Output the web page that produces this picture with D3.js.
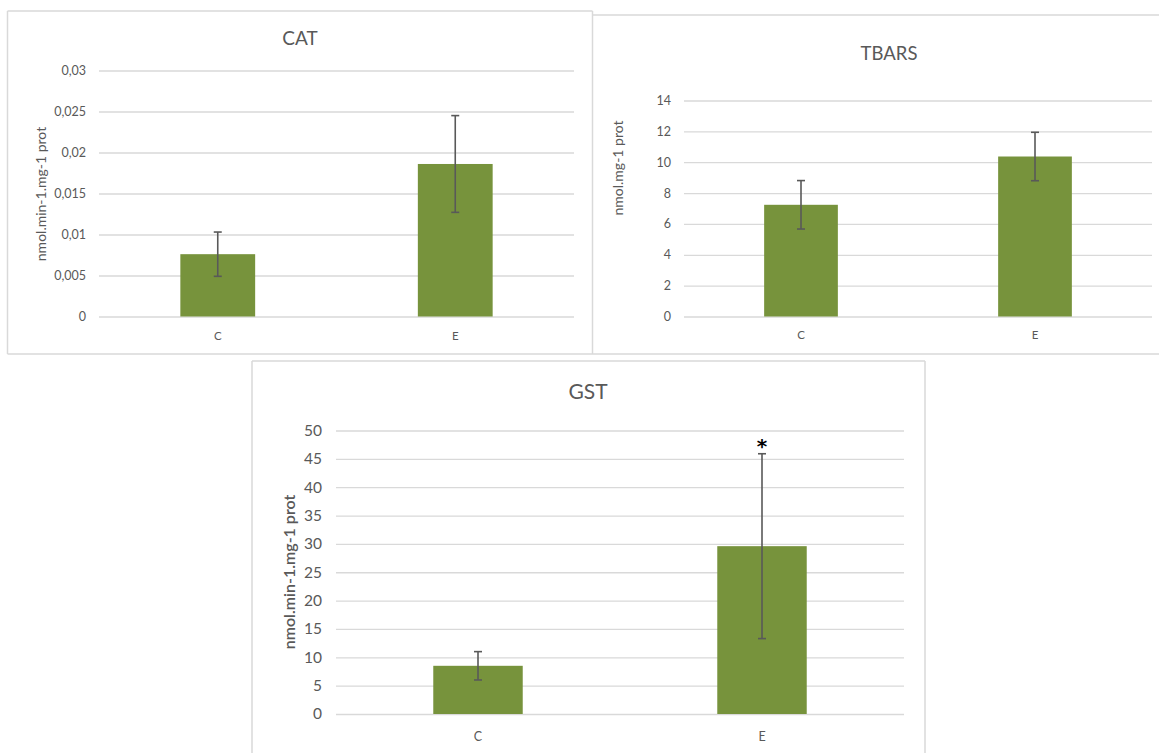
<!DOCTYPE html>
<html>
<head>
<meta charset="utf-8">
<script src="https://cdn.jsdelivr.net/npm/d3@7"></script>
<style>
  html, body { margin: 0; padding: 0; background: #ffffff; }
  svg { display: block; }
  text { font-family: Lato, "Noto Sans", "Liberation Sans", sans-serif; fill: #595959; }
</style>
</head>
<body>
<svg id="chart" width="1159" height="753"></svg>
<script>
// Groups shared by all three assays
const groups = ["C", "E"];

// CAT activity (mean ± error)
const catMean = [0.0076, 0.0186];
const catErr = [0.0027, 0.0059];
const catTicks = [0, 0.005, 0.01, 0.015, 0.02, 0.025, 0.03];

// TBARS levels
const tbarsMean = [7.24, 10.37];
const tbarsErr = [1.57, 1.57];
const tbarsTicks = [0, 2, 4, 6, 8, 10, 12, 14];

// GST activity
const gstMean = [8.5, 29.6];
const gstErr = [2.5, 16.3];
const gstTicks = [0, 5, 10, 15, 20, 25, 30, 35, 40, 45, 50];
const gstMarks = ["", "*"];

const commaLocale = d3.formatLocale({ decimal: ",", thousands: ".", grouping: [3], currency: ["", ""] });
const commaFmt = v => commaLocale.format("~g")(v);

const svg = d3.select("#chart");

// Panel frames
const frameColor = "#d9d9d9";
function frameLine(x1, y1, x2, y2) {
  svg.append("line").attr("x1", x1).attr("y1", y1).attr("x2", x2).attr("y2", y2)
    .attr("stroke", frameColor).attr("stroke-width", 1.5);
}
// CAT frame
frameLine(7.5, 11, 592.5, 11);
frameLine(7.5, 11, 7.5, 354);
frameLine(592.5, 11, 592.5, 354);
// shared bottom edge of top row
frameLine(7.5, 354, 1159, 354);
// TBARS frame
frameLine(593, 15, 1159, 15);
// GST frame
frameLine(252, 361, 925, 361);
frameLine(252, 361, 252, 753);
frameLine(925, 361, 925, 753);

function drawPanel(cfg) {
  const g = svg.append("g");
  const x = d3.scaleBand().domain(groups).range([cfg.x0, cfg.x1])
    .paddingInner(0.685).paddingOuter(0.3425);
  const y = d3.scaleLinear().domain([0, cfg.ticks[cfg.ticks.length - 1]]).range([cfg.y0, cfg.y1]);

  // gridlines + tick labels
  const axis = d3.axisLeft(y).tickValues(cfg.ticks).tickFormat(cfg.fmt)
    .tickSize(-(cfg.x1 - cfg.x0)).tickPadding(cfg.tickPad);
  const ax = g.append("g").attr("transform", `translate(${cfg.x0},0)`).call(axis);
  ax.select(".domain").remove();
  ax.selectAll(".tick line").attr("stroke", "#d9d9d9").attr("stroke-width", 1.3);
  ax.selectAll(".tick text").attr("fill", "#595959").style("font-size", cfg.tickSize + "px")
    .style("font-family", "Lato, 'Noto Sans', sans-serif");

  // bars
  g.selectAll("rect.bar").data(groups).join("rect").attr("class", "bar")
    .attr("x", d => x(d)).attr("width", x.bandwidth())
    .attr("y", (d, i) => y(cfg.mean[i])).attr("height", (d, i) => y(0) - y(cfg.mean[i]))
    .attr("fill", "#77933c");

  // error bars
  const cap = 4;
  groups.forEach((d, i) => {
    const cx = x(d) + x.bandwidth() / 2;
    const hi = y(cfg.mean[i] + cfg.err[i]);
    const lo = y(cfg.mean[i] - cfg.err[i]);
    const eg = g.append("g").attr("stroke", "#595959").attr("stroke-width", 1.6);
    eg.append("line").attr("x1", cx).attr("x2", cx).attr("y1", hi).attr("y2", lo);
    eg.append("line").attr("x1", cx - cap).attr("x2", cx + cap).attr("y1", hi).attr("y2", hi);
    eg.append("line").attr("x1", cx - cap).attr("x2", cx + cap).attr("y1", lo).attr("y2", lo);
    if (cfg.marks && cfg.marks[i]) {
      g.append("text").attr("x", cx).attr("y", hi - 1).attr("text-anchor", "middle")
        .style("font-size", "20px").style("font-weight", "bold").style("fill", "#000")
        .style("font-family", "'DejaVu Sans', sans-serif").text(cfg.marks[i]);
    }
  });

  // category labels
  g.selectAll("text.cat").data(groups).join("text").attr("class", "cat")
    .attr("x", d => x(d) + x.bandwidth() / 2).attr("y", cfg.catY)
    .attr("text-anchor", "middle").style("font-size", cfg.catSize + "px").text(d => d);

  // title
  g.append("text").attr("x", cfg.titleX).attr("y", cfg.titleY).attr("text-anchor", "middle")
    .style("font-size", cfg.titleSize + "px").text(cfg.title);

  // y-axis title
  g.append("text").attr("transform", `translate(${cfg.yTitleX},${cfg.yTitleY}) rotate(-90)`)
    .attr("text-anchor", "middle").attr("dominant-baseline", "central")
    .style("font-size", cfg.yTitleSize + "px").style("font-weight", cfg.yTitleWeight || "normal")
    .text(cfg.yTitle);
}

drawPanel({
  title: "CAT", titleX: 300, titleY: 45, titleSize: 19,
  mean: catMean, err: catErr, ticks: catTicks, fmt: commaFmt,
  x0: 99, x1: 574, y0: 316.5, y1: 70.5, tickPad: 13, tickSize: 12.5,
  catY: 340, catSize: 11.5,
  yTitle: "nmol.min-1.mg-1 prot", yTitleX: 40, yTitleY: 194, yTitleSize: 14
});

drawPanel({
  title: "TBARS", titleX: 889, titleY: 60, titleSize: 18.5,
  mean: tbarsMean, err: tbarsErr, ticks: tbarsTicks, fmt: d3.format("d"),
  x0: 684, x1: 1152, y0: 316.5, y1: 100.5, tickPad: 13, tickSize: 12.5,
  catY: 339, catSize: 11.5,
  yTitle: "nmol.mg-1 prot", yTitleX: 617, yTitleY: 168, yTitleSize: 14
});

drawPanel({
  title: "GST", titleX: 588, titleY: 399, titleSize: 21,
  mean: gstMean, err: gstErr, ticks: gstTicks, fmt: d3.format("d"),
  x0: 336, x1: 904, y0: 714, y1: 430.5, tickPad: 14, tickSize: 15.5,
  catY: 741, catSize: 12.5,
  yTitle: "nmol.min-1.mg-1 prot", yTitleX: 288, yTitleY: 572, yTitleSize: 16, yTitleWeight: 600,
  marks: gstMarks
});
</script>
</body>
</html>
